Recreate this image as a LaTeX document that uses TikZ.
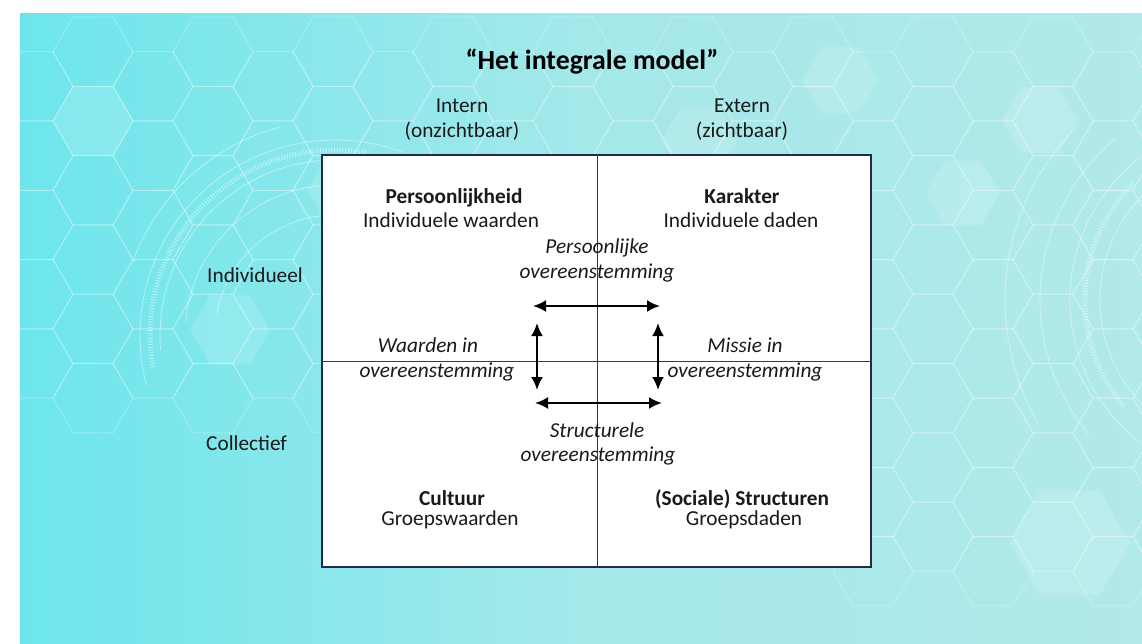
\documentclass[tikz,border=0pt]{standalone}
\usepackage{fontspec}
\setmainfont{Carlito}
\usetikzlibrary{arrows.meta}
\definecolor{cyanL}{HTML}{6CE6EC}
\definecolor{cyanM}{HTML}{A4E8EA}
\definecolor{cyanR}{HTML}{B2E9EA}
\definecolor{navy}{HTML}{1F2B47}
\definecolor{txt}{HTML}{1A1A1A}
\definecolor{grid}{HTML}{3A3A3A}
\begin{document}
\begin{tikzpicture}[x=1pt,y=-1pt,
  lbl/.style={font=\fontsize{21.3}{25}\selectfont, text=txt, inner sep=0pt, anchor=base},
  bld/.style={lbl, font=\fontsize{21.3}{25}\selectfont\bfseries},
  ital/.style={lbl, font=\fontsize{21.3}{25}\selectfont\itshape},
  ttl/.style={lbl, font=\fontsize{27.8}{32}\selectfont\bfseries, text=black},
  hexline/.style={draw=white, draw opacity=0.25, line width=1pt},
  hexfill/.style={fill=white, fill opacity=0.14},
  hud/.style={draw=white, draw opacity=0.45, line width=0.8pt},
  ticks/.style={draw=white, draw opacity=0.55, line width=5pt, dash pattern=on 0.8pt off 2pt},
  dbl/.style={line width=2.2pt, black, {Latex[length=13pt,width=12pt]}-{Latex[length=13pt,width=12pt]}},
  sep/.style={draw=grid, line width=0.9pt}]
\useasboundingbox (0,0) rectangle (1142,644);
\fill[white] (0,0) rectangle (1142,644);
% background
\shade[left color=cyanL, right color=cyanR, middle color=cyanM] (20,14) rectangle (1142,644);
\begin{scope}
\clip (20,14) rectangle (1142,644);
% filled hexagons
\foreach \cx/\cy/\r in {93/121/40, 963/193/37, 1070/543/60, 345/190/38, 700/140/38, 1040/120/38, 230/330/40, 840/80/38}{
  \fill[hexfill, shift={(\cx,\cy)}] (0:\r) -- (60:\r) -- (120:\r) -- (180:\r) -- (240:\r) -- (300:\r) -- cycle;
}
% hexagon grid
\foreach \i in {-1,...,19}{
  \foreach \j in {-1,...,9}{
    \pgfmathsetmacro{\cx}{93+60*\i}
    \pgfmathsetmacro{\cy}{121+69.28*\j+34.64*mod(\i+20,2)}
    \pgfmathtruncatemacro{\skip}{(\cy>430 && \cx<850) || (\cy>600) ? 1 : 0}
    \ifnum\skip=0
      \draw[hexline, shift={(\cx,\cy)}] (0:40) -- (60:40) -- (120:40) -- (180:40) -- (240:40) -- (300:40) -- cycle;
    \fi
  }
}
% HUD arcs left
\foreach \r/\a/\b in {195/165/290, 175/175/285, 150/185/275, 120/190/270, 215/200/255}{
  \draw[hud] (335,335) ++(\a:\r) arc[start angle=\a, end angle=\b, radius=\r];
}
\draw[ticks] (335,335) ++(170:185) arc[start angle=170, end angle=280, radius=185];
% HUD arcs right
\foreach \r/\a/\b in {150/130/235, 180/125/240, 210/140/230, 245/150/225}{
  \draw[hud] (1250,300) ++(\a:\r) arc[start angle=\a, end angle=\b, radius=\r];
}
\draw[ticks] (1250,300) ++(140:165) arc[start angle=140, end angle=225, radius=165];
\end{scope}
% title and headers
\node[ttl] (title) at (592,70) {“Het integrale model”};
\node[lbl] (intern) at (462,113) {Intern};
\node[lbl] (intern2) at (462,138) {(onzichtbaar)};
\node[lbl] (extern) at (742,113) {Extern};
\node[lbl] (extern2) at (742,138) {(zichtbaar)};
\node[lbl, anchor=base west] (indiv) at (207,282) {Individueel};
\node[lbl, anchor=base west] (coll) at (206,450) {Collectief};
% frame
\node[draw=navy, line width=2.4pt, fill=white, minimum width=549pt, minimum height=412pt, inner sep=0pt] (frame) at (596.5,361) {};
\coordinate (vx) at (597,361);
\draw[sep] (vx |- frame.north) -- (vx |- frame.south);
\draw[sep] (frame.west |- vx) -- (frame.east |- vx);
% quadrant texts
\node[bld] (pers) at (454,204) {Persoonlijkheid};
\node[lbl] (pers2) at (451,228) {Individuele waarden};
\node[bld] (kar) at (742,204) {Karakter};
\node[lbl] (kar2) at (741,228) {Individuele daden};
\node[bld] (cult) at (452,505) {Cultuur};
\node[lbl] (cult2) at (450,525) {Groepswaarden};
\node[bld] (soc) at (742,505) {(Sociale) Structuren};
\node[lbl] (soc2) at (744,525) {Groepsdaden};
% italic labels
\node[ital] (po1) at (597,254) {Persoonlijke};
\node[ital] (po2) at (597,278) {overeenstemming};
\node[ital] (wo1) at (428,352) {Waarden in};
\node[ital] (wo2) at (437,377) {overeenstemming};
\node[ital] (mo1) at (745,352) {Missie in};
\node[ital] (mo2) at (745,377) {overeenstemming};
\node[ital] (so1) at (597,437) {Structurele};
\node[ital] (so2) at (598,461) {overeenstemming};
% arrows
\coordinate (tL) at (533,306);
\coordinate (tR) at (660,306);
\coordinate (bL) at (535,403);
\coordinate (bR) at (662,403);
\coordinate (lT) at (537,323);
\coordinate (lB) at (537,390);
\coordinate (rT) at (658,323);
\coordinate (rB) at (658,390);
\draw[dbl] (tL) -- (tR);
\draw[dbl] (bL) -- (bR);
\draw[dbl] (lT) -- (lB);
\draw[dbl] (rT) -- (rB);
\end{tikzpicture}
\end{document}
